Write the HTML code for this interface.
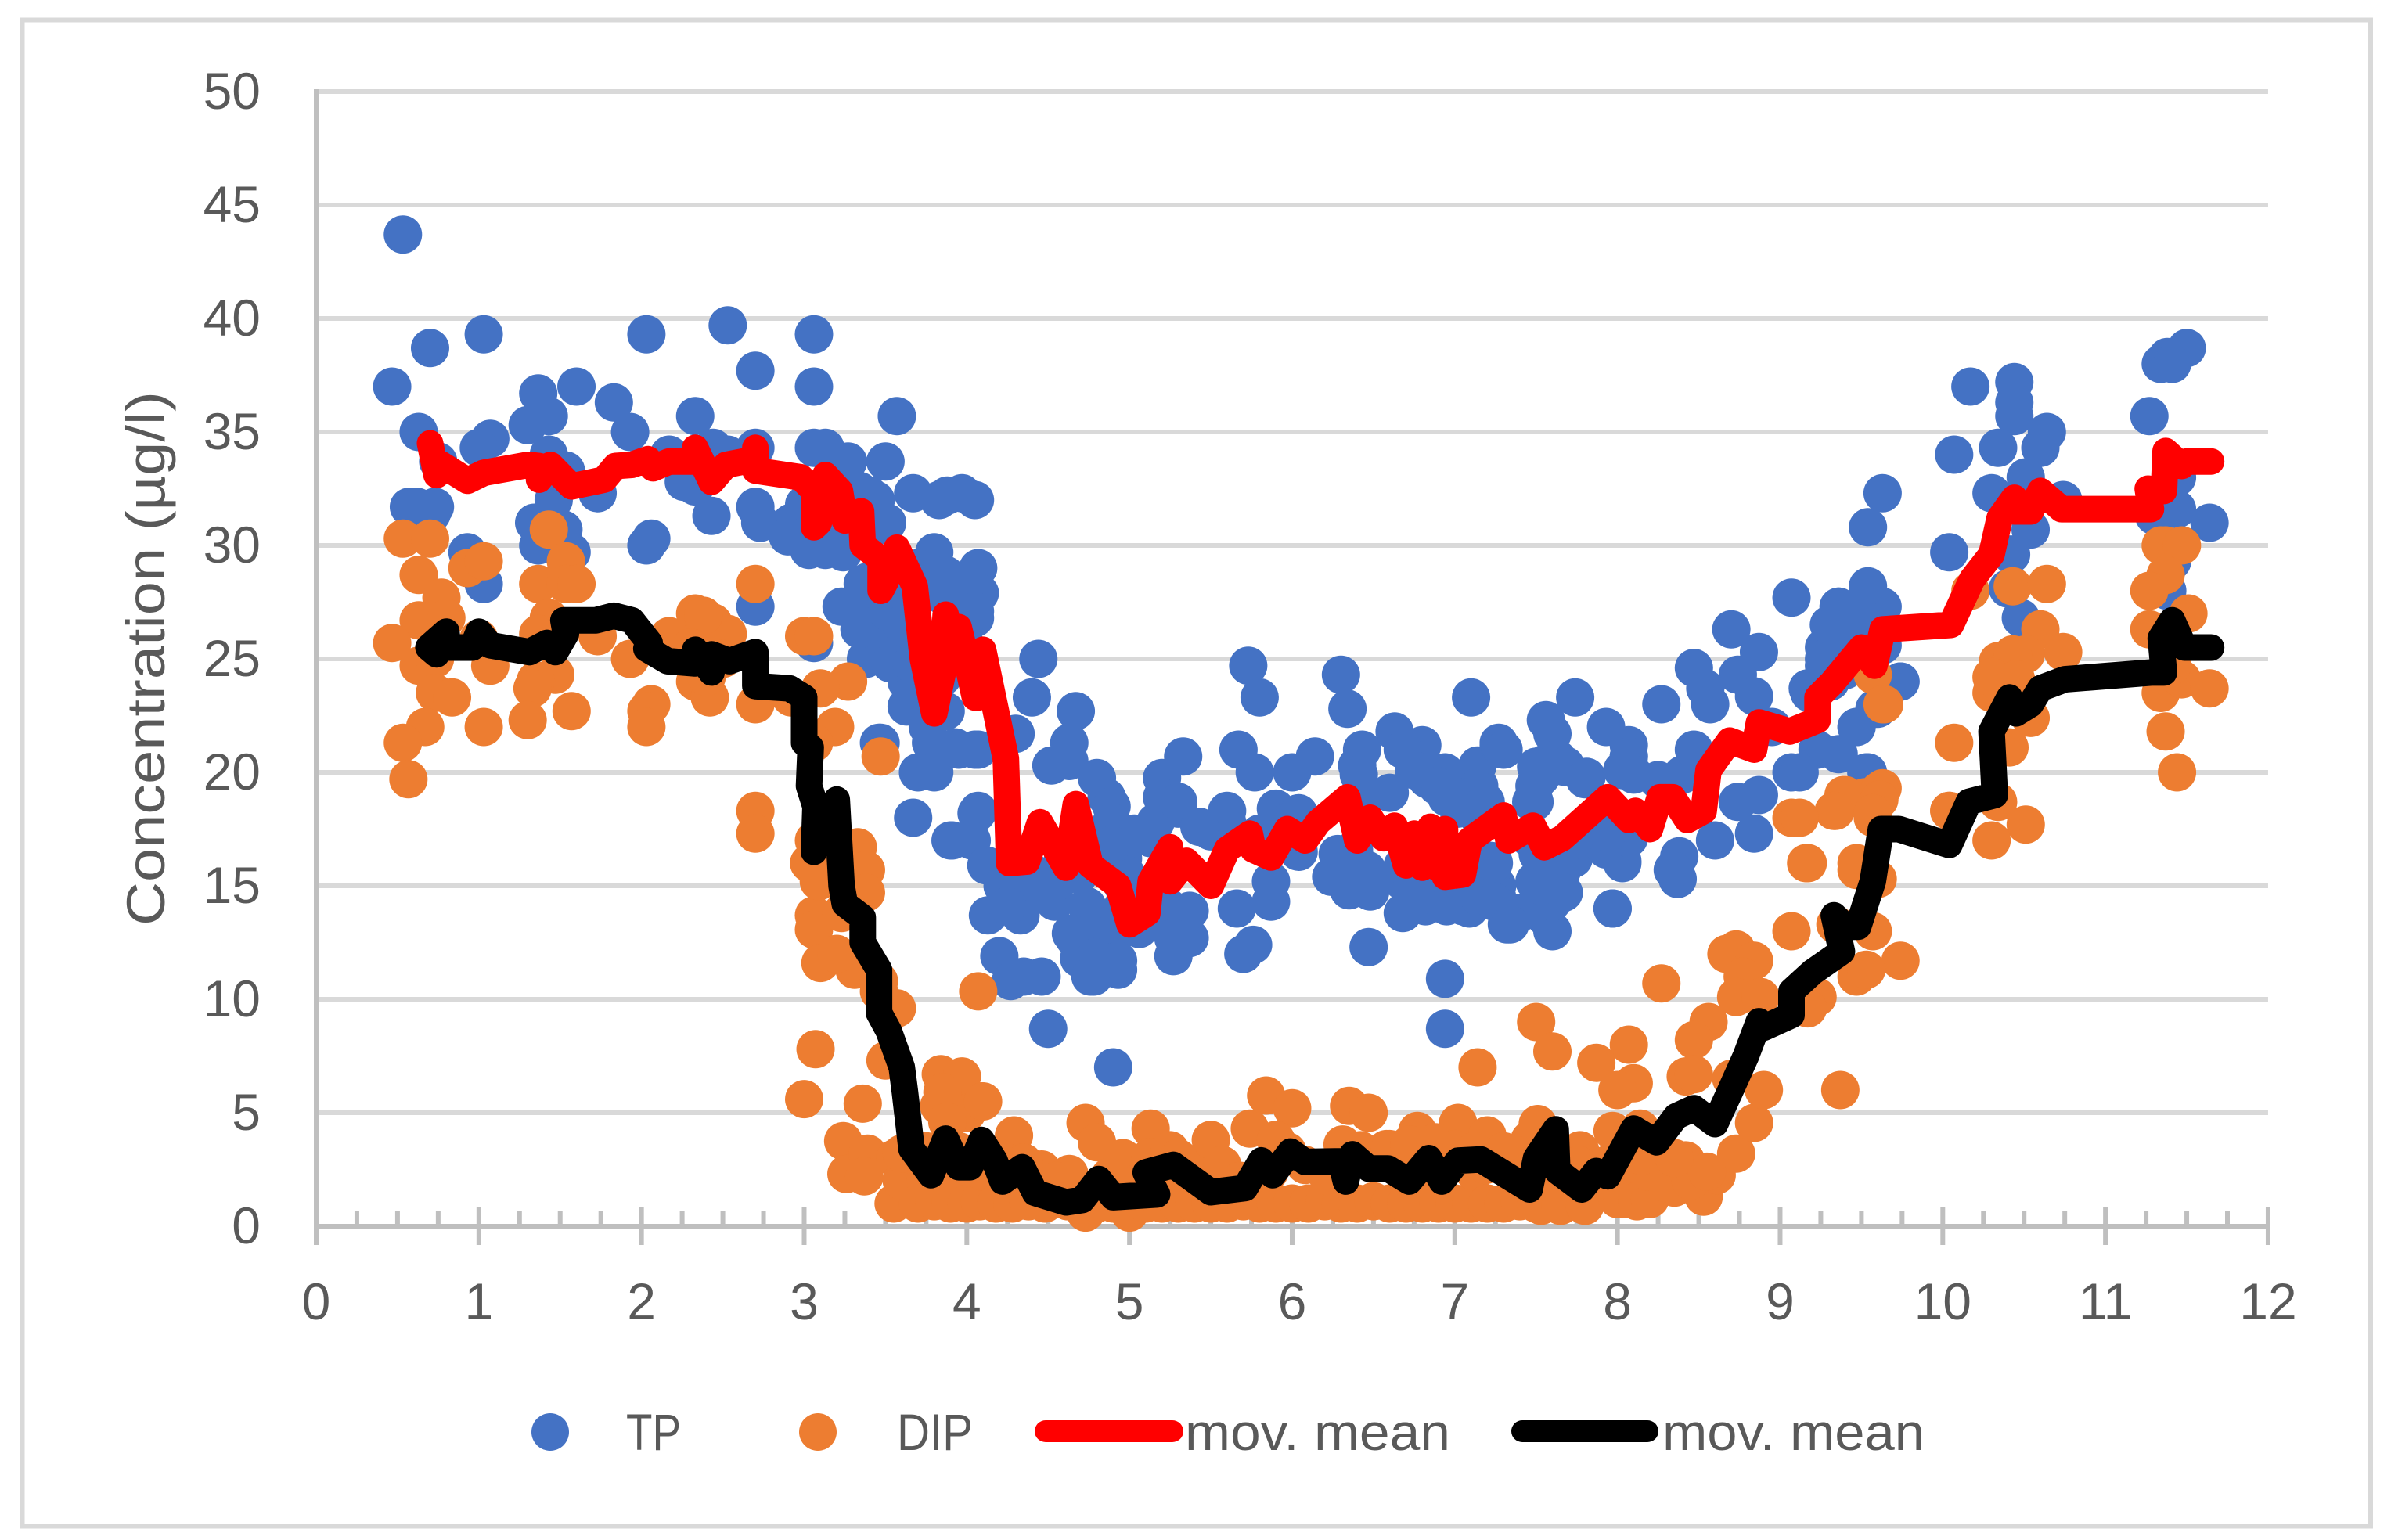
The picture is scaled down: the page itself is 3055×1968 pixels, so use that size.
<!DOCTYPE html>
<html lang="en">
<head>
<meta charset="utf-8">
<title>Concentration chart</title>
<style>
html,body{margin:0;padding:0;background:#fff;}
svg{display:block;}
text{font-family:"Liberation Sans",sans-serif;fill:#595959;}
</style>
</head>
<body>
<svg id="chart" xmlns="http://www.w3.org/2000/svg" width="3055" height="1968" viewBox="0 0 3055 1968">
  <rect x="28.5" y="25.5" width="3000.5" height="1925" fill="#fff" stroke="#d9d9d9" stroke-width="6"/>
  <g id="grid"></g>
  <g id="axes"></g>
  <g id="tp-points"></g>
  <g id="dip-points"></g>
  <g id="lines"></g>
  <g id="tick-labels"></g>
  <text transform="translate(210,1183) rotate(-90)" font-size="69" textLength="683" lengthAdjust="spacingAndGlyphs">Concentration (µg/l)</text>
  <g>
    <circle cx="703" cy="1830" r="24" fill="#4472c4"/>
    <text x="800" y="1853" font-size="66" textLength="70" lengthAdjust="spacingAndGlyphs">TP</text>
    <circle cx="1045" cy="1830" r="24" fill="#ed7d31"/>
    <text x="1146" y="1853" font-size="66" textLength="97" lengthAdjust="spacingAndGlyphs">DIP</text>
    <line x1="1336" y1="1829" x2="1498" y2="1829" stroke="#ff0000" stroke-width="28" stroke-linecap="round"/>
    <text x="1514" y="1853" font-size="66" textLength="339" lengthAdjust="spacingAndGlyphs">mov. mean</text>
    <line x1="1945" y1="1829" x2="2105" y2="1829" stroke="#000000" stroke-width="28" stroke-linecap="round"/>
    <text x="2124" y="1853" font-size="66" textLength="335" lengthAdjust="spacingAndGlyphs">mov. mean</text>
  </g>
</svg>
<script>
const xTickLabels = [0,1,2,3,4,5,6,7,8,9,10,11,12];
const yTickLabels = [0,5,10,15,20,25,30,35,40,45,50];

const tpPoints = [
[.533,43.7],[.467,37],[.70,38.7],[1.03,39.3],[2.03,39.3],[2.53,39.7],[3.06,39.3],[2.70,37.7],[3.06,37],[1.365,36.7],[1.6,37],[1.83,36.3],[1.93,35],[2.33,35.7],[3.57,35.7],[1.43,35.7],[1.30,35.3],[.63,35],[1.07,34.7],[1,34.3],[1.43,34],[.75,33.7],[1.535,33.3],[2.44,34.3],[2.17,34],[2.53,34],[2.70,34.3],[3.06,34.3],[3.13,34.3],[3.27,33.7],[3.50,33.7],[1.73,32.3],[3.67,32.3],[3.97,32.3],[3.83,32],[3.88,32.2],[4.05,32],[.57,31.7],[.73,31.7],[.71,31.4],[.62,31.7],[1.46,32],[2.43,31.3],[2.33,32.6],[2.26,32.8],[2.70,31.7],[2.73,31],[3,31.8],[2.92,31],[3.4,32.2],[3.4,31.4],[3.46,31],[2.9,30.4],[3.03,29.8],[3.13,29.8],[3.24,29.7],[1.34,31],[1.52,30.7],[1.365,30],[1.57,29.7],[2.06,30.3],[2.03,30],[.93,29.7],[1.03,28.3],[3.8,29.7],[3.87,28.7],[4.07,29],[3.36,28.3],[3.23,27.3],[2.70,27.3],[3.66,27.3],[4.08,27.9],[3.38,26.3],[3.53,25.7],[3.38,25],[3.63,24],[3.06,25.7],[3.74,23],[3.87,22.7],[3.46,21.3],[3.78,21.3],[3.93,21.1],[4.05,21],[3.7,20],[3.8,20],[3.67,18],[3.9,17],[4.06,18.2],[4.05,26.8],[4.0,25.5],[3.75,25],[3.85,24.2],
[3.88,21],[3.53,24.8],[3.66,24.8],[3.63,22.9],[3.76,22],[3.34,26.3],[3.41,27.1],[3.51,27.1],[3.66,26.8],[3.39,28.4],[3.85,27.8],[4,28],[4.05,27.1],[3.34,32.4],[3.44,32],[3.51,31],[3.41,30.7],[3.27,30.7],[3.55,29],[3.6,28],[3.7,29],[3.72,26],[3.6,26.5],
[4.44,25],[4.40,23.3],[4.67,22.7],[5.73,24.7],[5.8,23.3],[6.3,24.3],[6.34,22.8],[7.1,23.3],[7.74,23.3],[7.56,22.3],[7.6,21.7],[7.93,22],[8.07,20.7],[4.3,21.7],[4.63,21.3],[3.95,21],[4.07,21],[3.47,21.3],[4.52,20.3],[4.63,20.5],[5.33,20.7],[5.2,19.75],[5.67,21],[5.77,20],[6,20],[6.14,20.7],[6.43,21],[6.4,20.3],[6.63,21.8],[6.8,21.2],[6.83,19.7],[6.94,20],[7.14,20.3],[7.27,21.2],[7.15,19.4],[7.56,20.4],[7.68,20.3],[7.81,19.8],[4.8,19.75],[4.86,18.9],[4.89,18.5],[4.89,17.8],[4.07,18.3],[3.91,17],[4.03,17],[5.3,18.4],[5.2,18.9],[5.13,17.1],[5.6,18.3],[5.9,18.4],[5.97,17.8],[5.5,17.4],[6.6,19.1],[7.02,18.4],[7.15,18],[7.49,18.7],[8.03,16.1],[8.07,17.3],[7.46,17.1],[7.53,16.1],[7.65,16.1],[6.28,16.4],[6.04,16.5],[6.45,17.6],[7.22,16.1],[4.96,16.2],[6.24,15.4],[6.35,14.8],[6.48,14.75],[6.46,15.7],[7.54,15],[7.66,14.75],[7.97,14],[7.26,14.5],[7.09,14],[6.95,14.1],[6.72,14.2],[6.68,15.2],[7.32,13.3],[7.6,13],[5.87,14.3],[5.66,14],[5.87,15.2],[4.59,16.1],[4.32,14.5],[4.13,13.7],[4.33,13.7],[4.54,14.3],[4.74,14.1],[4.2,11.9],[4.27,10.8],[4.35,11],[4.46,11],[5.76,12.4],[5.7,12],[6.47,12.3],[6.94,10.9],[6.94,8.7],[4.5,8.7],[4.9,7],[4.66,12.7],[4.69,11.8],[4.93,11.3],[4.78,11],[4.86,12],[4.89,13.3],[5.06,13.1],[5.27,11.9],[5.37,12.7],[5.37,13.9],[5.23,13.3],[4.12,15.9],[4.35,15.2],
[4.22,15],[4.42,15.5],[4.56,15.2],[4.69,15.5],[4.98,15.5],[4.96,14.1],[5.1,13.8],[5.23,14.1],[4.76,12.9],[4.89,12.4],[4.64,12.9],[4.79,11.85],[4.76,11],[4.93,11.7],[5.27,12.7],[4.25,14.1],[6.38,16.6],[6.41,15.5],[6.68,13.8],[6.82,14.1],[6.89,14.5],[7.05,14.1],[7.15,14.5],[7.26,15],[7.22,15.5],[7.05,15.9],[6.82,15.5],[6.68,15.9],[7.49,15.2],[7.66,15.7],[7.73,16.2],[7.4,13.8],[7.56,13.6],[7.6,14.3],[6.95,18.9],[7.02,18.9],[6.89,19.4],[6.68,21],[6.75,20.1],[7.15,19.2],[7.19,18.7],[7.49,19.4],[7.53,19.8],[7.63,20.6],[8.07,21.2],[8.03,20.1],[5.03,17.3],[5.16,17.8],[5.3,18.7],[5.6,17.8],[5.43,17.6],[6.04,18.2],[5.8,17.3],[4.89,16.8],[4.96,15],[6.45,18.9],[6.41,19.9],[7.93,16.6],
[9.07,27.7],[9.36,27.3],[9.54,27.3],[9.63,27.3],[8.7,26.3],[8.87,25.3],[8.47,24.6],[8.74,24.3],[8.54,23.7],[8.84,23.35],[8.57,23],[8.27,23],[7.27,21.3],[7.3,21],[8.07,20.7],[7.5,20.25],[7.67,20.25],[7.8,19.7],[8.1,19.9],[8.25,19.66],[8.4,19.9],[8.47,21],[9.27,25.5],[9.35,25.7],[9.27,24.7],[9.17,23.7],[9.74,24],[9.58,22.8],[9.47,22],[8.95,22],[9.23,21],[9.36,20.8],[9.54,20],[9.07,20],[8.87,19],[8.74,18.7],[7.47,18.7],[8.84,17.3],[8.6,17],[8.38,16.3],[8.37,15.3],[8.34,15.7],[8.03,16],[8.07,17.1],[7.94,17.35],[7.73,17],[7.51,16.4],[7.64,16.3],[7.67,14.7],[7.53,15],[7.24,16],[7.24,14.3],[7.34,13.3],[7.97,14],
[11.5,38.7],[11.38,38.3],[11.34,38],[11.41,38],[11.27,35.7],[10.17,37],[10.44,37.2],[10.44,36.3],[10.44,35.7],[10.64,35],[10.6,34.3],[10.07,34],[10.34,34.3],[10.51,33],[10.3,32.3],[10.74,32],[9.63,32.3],[9.54,30.8],[10.54,30.7],[10.04,29.7],[10.42,29.6],[11.44,33],[11.44,31.6],[11.64,31],[11.3,31.3],[11.41,29.3],[11.38,28],[10.4,28.1],[10.48,26.8],[9.54,28.2],[9.36,27.3],[9.33,25.7],[9.27,25],[9.74,24],[9.63,25.6],[9.6,22.8],[9.47,22],[9.31,24],[9.18,23.5],[9.53,20],[9.12,20],[9.3,26.5],[9.45,26.3],[9.4,24.5],[9.5,24.8]
];

const dipPoints = [
[.533,30.3],[.70,30.3],[.63,28.7],[.77,27.7],[.93,29],[1.03,29.3],[1.43,30.7],[1.535,29.3],[1.365,28.3],[1.535,28.3],[1.6,28.3],[2.70,28.3],[.63,26.7],[.467,25.7],[.8,26.8],[.63,24.7],[.73,25],[1.07,24.7],[1,25.9],[1.43,26.8],[1.365,26.1],[1.47,24.3],[1.35,24.05],[1.33,23.7],[.73,23.5],[.835,23.3],[.67,22],[.533,21.3],[.567,19.7],[1.03,22],[1.3,22.3],[1.57,22.7],[2.06,23],[2.03,22.7],[2.03,22],[1.73,26],[1.93,25],[2.33,27],[2.44,26.6],[2.53,26.1],[2.17,26],[2.33,24],[2.42,23.3],[2.70,23],[2.92,23.3],[3,26],[3.06,26],[3.27,24],[3.1,23.7],[3.19,22],[3.06,21.3],[3.47,20.7],[2.38,26.9],[2.3,25.5],[2.5,25],[2.4,24.2],
[2.70,18.3],[2.70,17.3],[3.06,17],[3.03,16],[3.33,16.7],[3.38,15.7],[3.38,14.7],[3.06,13.7],[3.06,13.07],[3.09,15.2],[3.23,13.8],[3.1,11.6],[3.31,11.3],[3.2,12],[3.46,10.8],[3.57,9.6],[3.46,10.35],[3.07,7.8],[3,5.6],[3.36,5.4],[3.5,7.3],[3.24,3.75],[3.26,2.3],[3.39,3.2],[3.56,3],[3.87,5.5],[4.09,5.5],[3.84,6.7],[3.97,6.6],[3.83,5.3],[4,5],[3.85,5.9],[4.1,5.5],[3.88,4.6],[4.07,10.35],[4.29,4],
[3.37,2.2],[3.55,1],[3.6,2],[3.7,1],[3.75,2.1],[3.8,1.1],[3.9,1],[3.95,2.2],[4,1],[4.08,1.1],[4.1,2.4],[4.18,1],[4.25,2.2],[4.28,1],[4.38,1.1],[4.46,2.5],[4.48,1],[4.63,2.3],[4.55,2],[4.62,1.1],[4.73,.6],[4.73,4.55],[4.8,3.7],[4.8,1],[4.88,2.2],[4.9,1],[5,.6],[4.96,3],[5.05,1.9],[5.1,1],[5.13,4.3],[5.13,3.05],[5.2,1],[5.22,2.2],[5.25,3.35],[5.3,1],[5.37,2.7],[5.4,1],[5.45,2],[5.5,3.8],[5.5,1],[5.57,2.7],[5.6,1],[5.68,2],[5.7,1.1],[5.74,4.3],[5.8,1],[5.84,5.76],[5.86,2.4],[5.9,1],[6,5.2],[6,1],[5.97,3.3],[5.9,3.8],[6.08,2.7],[6.1,1],[6.2,1.1],[6.22,2.2],[6.31,3.6],[6.3,1],[6.35,5.3],[6.4,1],[6.42,3.35],[6.47,5],[6.5,1.1],[6.58,3.4],[6.6,1],[6.68,2.7],[6.7,1],[6.77,4.2],[6.8,1],[6.85,2.2],[6.9,1],[7,1],[7.02,4.55],[7.1,1],[7.12,2.4],[7.2,4],[7.19,2.7],[7.2,1],[7.3,1],[7.36,2.7],[7.4,1.1],[7.46,3.8],[7.5,1],[7.51,4.5],[7.53,.9],[7.6,2.2],[7.65,.9],[7.66,3.2],[7.77,3.35],[7.76,2.7],[7.8,.9],[7.85,2],[7.93,2.7],[7.97,4.2],[8,1.2],[8.03,1.2],[8.1,2.3],[8.14,4.3],[8.12,1.1],[8.2,1.2],[8.19,2.4],[8.3,2.8],[8.35,1.7],[8.42,2.9],[8.53,1.3],[8.61,2.25],[8.73,3.2],[8.84,4.55],
[3.6,3.2],[3.75,3.3],[3.95,3.3],[4.05,3.2],[4.2,3],[4.35,2.8],[5.3,3],[6.6,3.4],[6.72,3.6],[6.88,3.7],[7,3.4],[7.12,3.3],[7.3,3.3],[7.4,3.1],[8.25,2.8],[8.3,1.9],[8.45,2],[8.55,2.4],[8.15,3.1],[8.35,3],
[7.5,9],[7.6,7.7],[8.07,8],[7.87,7.2],[8.1,6.3],[8,6],[7.14,7],[8.56,9],[8.47,8.2],[8.42,6.6],[8.47,6.7],[8.7,6.5],[8.9,6],[8.27,10.7],[9.37,6],
[9.64,23],[10.07,21.3],[9.57,24.3],[9.63,19.3],[9.39,19],[9.34,18.3],[9.52,18.9],[9.57,18],[9.07,18],[10.04,18.3],[9.17,16],[9.47,15.7],[9.6,15.3],[9.07,13],[9.34,13.3],[9.57,13],[9.74,11.7],[9.47,11],[9.53,11.3],[8.73,12.2],[8.67,12],[8.84,11.7],[8.77,11],[8.73,10.1],[8.88,10.1],[9.23,10.1],[9.17,9.6],
[11.37,30],[11.34,30],[11.47,30],[11.37,28.7],[11.27,28],[11.51,27],[11.27,26.3],[11.34,23.5],[11.47,24.1],[11.64,23.7],[11.37,21.8],[11.44,20],[11.41,24.7],[9.63,23],[10.17,28],[10.43,28.2],[10.64,28.3],[10.6,26.3],[10.74,25.3],[10.51,25.2],[10.34,24.9],[10.43,25.2],[10.3,23.5],[10.3,24.2],[10.45,24.1],[10.54,22.4],[10.41,21.1],[10.34,18.7],[10.04,18.3],[10.51,17.7],[10.3,17],[9.4,19],[9.33,18.3],[9.61,19.2],[9.61,18.8],[9.57,18.2],[9.12,18],[9.16,16],[9.47,16]
];

const redMeanPoints = [
[.70,34.5],[.74,33.1],[.74,33.7],[.93,32.85],[1.03,33.2],[1.3,33.55],[1.37,33.5],[1.37,32.9],[1.44,33.55],[1.57,32.6],[1.77,32.9],[1.84,33.5],[1.94,33.55],[2.04,33.8],[2.07,33.4],[2.17,33.7],[2.33,33.7],[2.33,34.3],[2.43,32.8],[2.52,33.55],[2.7,33.8],[2.7,34.3],[2.7,33.3],[2.98,33],[3.06,32.4],[3.06,30.8],[3.09,31],[3.13,33.1],[3.22,32.4],[3.25,31.1],[3.35,31.5],[3.36,30],[3.47,29.4],[3.47,28],[3.5,28.4],[3.57,29.9],[3.68,28.2],[3.73,25],[3.8,22.6],[3.85,24.3],[3.87,26.95],[3.9,25.9],[3.95,26.4],[4,24.9],[4.05,23.3],[4.07,23.3],[4.1,25.4],[4.24,20.6],[4.26,16],[4.37,16.07],[4.45,17.8],[4.61,15.8],[4.67,18.6],[4.76,15.9],[4.93,15],[5,13.3],[5.11,13.8],[5.13,15.2],[5.25,16.7],[5.25,15.2],[5.35,16.1],[5.5,15],[5.6,16.6],[5.74,17.3],[5.76,16.6],[5.87,16.25],[5.97,17.5],[6.08,17],[6.16,17.8],[6.34,18.9],[6.4,17],[6.48,18],[6.56,17.1],[6.63,17.65],[6.7,15.9],[6.75,17.3],[6.8,15.8],[6.85,17.6],[6.89,15.8],[6.94,17.5],[6.94,15.4],[7.05,15.5],[7.09,17],[7.3,18.1],[7.33,17],[7.48,17.65],[7.55,16.7],[7.66,17.1],[7.94,18.9],[8.07,17.9],[8.11,18.3],[8.2,17.5],[8.26,18.9],[8.34,18.9],[8.43,17.9],[8.53,18.3],[8.56,20.1],[8.69,21.4],[8.84,21],[8.87,22.2],[9.06,21.8],[9.23,22.3],[9.23,23.3],[9.32,23.95],[9.5,25.5],[9.58,24.7],[9.63,26.3],[10.05,26.5],[10.18,28.5],[10.3,29.6],[10.35,31.2],[10.44,32.1],[10.44,31.5],[10.54,31.5],[10.6,32.4],[10.73,31.6],[11.28,31.6],[11.26,32.5],[11.36,32.4],[11.37,34.16],[11.47,33.5],[11.5,33.7],[11.65,33.7]
];

const blackMeanPoints = [
[.74,25.2],[.69,25.5],[.8,26.2],[.81,25.5],[.96,25.5],[1,26.2],[1.07,25.6],[1.31,25.3],[1.42,25.7],[1.47,25.3],[1.535,26.1],[1.52,26.7],[1.72,26.7],[1.83,26.9],[1.94,26.7],[2.05,25.7],[2.03,25.45],[2.16,24.9],[2.33,24.8],[2.33,25.4],[2.43,24.4],[2.43,25.2],[2.54,24.9],[2.7,25.3],[2.7,23.8],[2.91,23.7],[3,23.3],[3,21.3],[3.04,21.1],[3.03,19.4],[3.07,18.5],[3.06,16.5],[3.2,18.8],[3.23,15],[3.25,14.2],[3.36,13.6],[3.36,12.5],[3.46,11.3],[3.46,9.4],[3.52,8.6],[3.6,7],[3.62,5.9],[3.66,3.4],[3.78,2.25],[3.87,3.86],[3.95,2.6],[4.02,2.6],[4.09,3.8],[4.17,2.9],[4.22,1.97],[4.34,2.6],[4.42,1.47],[4.61,1.05],[4.71,1.16],[4.81,2.08],[4.9,1.28],[5.17,1.4],[5.1,2.37],[5.27,2.7],[5.5,1.5],[5.71,1.68],[5.81,2.9],[5.88,2.25],[5.99,3.29],[6.08,2.83],[6.3,2.86],[6.33,1.97],[6.37,3.17],[6.47,2.54],[6.59,2.54],[6.72,1.97],[6.84,3],[6.92,1.97],[7.02,2.89],[7.16,2.94],[7.29,2.37],[7.46,1.62],[7.5,3],[7.62,4.27],[7.63,2.43],[7.78,1.62],[7.87,2.43],[7.94,2.2],[8.1,4.3],[8.24,3.7],[8.36,4.84],[8.47,5.2],[8.6,4.5],[8.69,5.9],[8.79,7.5],[8.87,9.03],[8.9,8.75],[9.07,9.3],[9.07,10.35],[9.2,11.2],[9.38,12.1],[9.33,13.7],[9.4,13.2],[9.48,13.2],[9.57,15.2],[9.62,17.5],[9.73,17.5],[10.04,16.8],[10.16,18.7],[10.32,19],[10.3,21.8],[10.41,23.3],[10.45,22.6],[10.54,23],[10.6,23.7],[10.75,24.1],[11.28,24.4],[11.36,24.4],[11.34,25.9],[11.41,26.7],[11.485,25.5],[11.65,25.5]
];

const SVGNS = 'http://www.w3.org/2000/svg';
function xPos(v){ return 404 + v * 207.83; }
function yPos(v){ return 1567 - v * 29; }
function make(tag, parent, attrs){
  const el = document.createElementNS(SVGNS, tag);
  for (const k in attrs) el.setAttribute(k, attrs[k]);
  parent.appendChild(el);
  return el;
}

const grid = document.getElementById('grid');
const axes = document.getElementById('axes');
const labels = document.getElementById('tick-labels');

yTickLabels.forEach(function(v){
  if (v > 0) {
    const g = make('line', grid, {x1:xPos(0), x2:xPos(12), y1:yPos(v), y2:yPos(v), stroke:'#d9d9d9', 'stroke-width':6});
    
    
  }
  const t = make('text', labels, {x:333, y:yPos(v)+22, 'text-anchor':'end', 'font-size':66});
  t.textContent = String(v);
  
  
});

const yAxis = make('line', axes, {x1:xPos(0), x2:xPos(0), y1:yPos(50)-3, y2:1591, stroke:'#bfbfbf', 'stroke-width':6});


const xAxis = make('line', axes, {x1:xPos(0), x2:xPos(12)+3, y1:yPos(0), y2:yPos(0), stroke:'#bfbfbf', 'stroke-width':6});



xTickLabels.forEach(function(v, i){
  const major = make('line', axes, {x1:xPos(v), x2:xPos(v), y1:1543, y2:1591, stroke:'#bfbfbf', 'stroke-width':6});
  
  
  if (i < xTickLabels.length - 1) {
    [0.25, 0.5, 0.75].forEach(function(f){
      const minor = make('line', axes, {x1:xPos(v+f), x2:xPos(v+f), y1:1548, y2:1567, stroke:'#bfbfbf', 'stroke-width':6});
      
      
    });
  }
  const t = make('text', labels, {x:xPos(v), y:1686, 'text-anchor':'middle', 'font-size':66});
  t.textContent = String(v);
  
  
});

const tpGroup = document.getElementById('tp-points');
tpPoints.forEach(function(p){
  const c = make('circle', tpGroup, {cx:xPos(p[0]), cy:yPos(p[1]), r:24.5, fill:'#4472c4'});
  
  
});
const dipGroup = document.getElementById('dip-points');
dipPoints.forEach(function(p){
  const c = make('circle', dipGroup, {cx:xPos(p[0]), cy:yPos(p[1]), r:24.5, fill:'#ed7d31'});
  
  
});

function linePath(points){
  return points.map(function(p, i){
    return (i ? 'L' : 'M') + xPos(p[0]).toFixed(1) + ' ' + yPos(p[1]).toFixed(1);
  }).join(' ');
}
const lineGroup = document.getElementById('lines');
const redLine = make('path', lineGroup, {d:linePath(redMeanPoints), fill:'none', stroke:'#ff0000', 'stroke-width':34, 'stroke-linecap':'round', 'stroke-linejoin':'round'});


const blackLine = make('path', lineGroup, {d:linePath(blackMeanPoints), fill:'none', stroke:'#000000', 'stroke-width':34, 'stroke-linecap':'round', 'stroke-linejoin':'round'});


</script>
</body>
</html>
